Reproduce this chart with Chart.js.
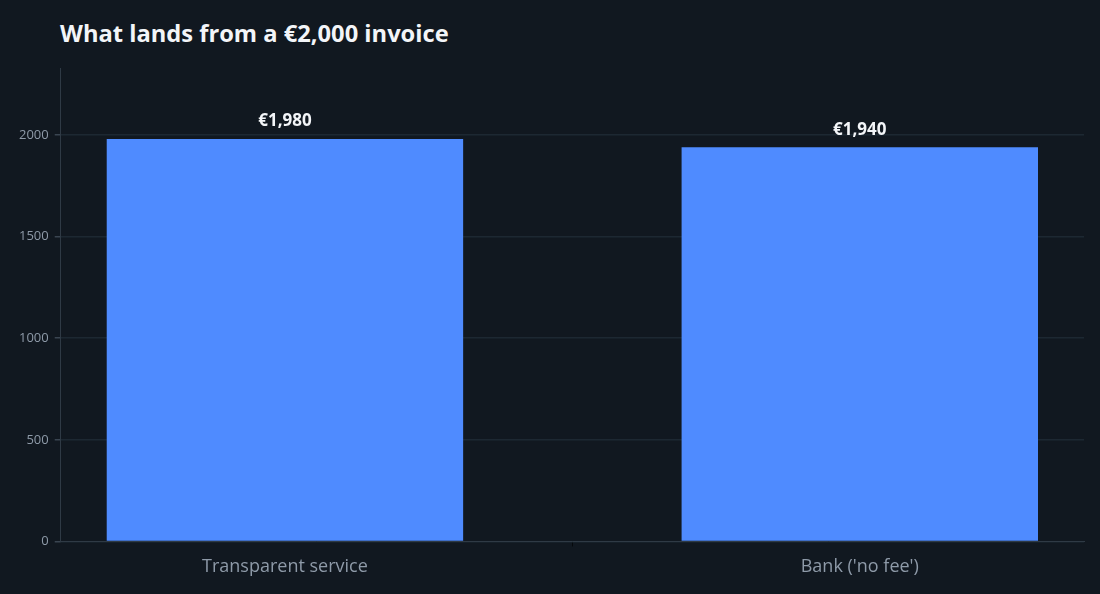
<!DOCTYPE html>
<html>
<head>
<meta charset="utf-8">
<script src="https://cdn.jsdelivr.net/npm/chart.js@4"></script>
<style>
  html, body { margin: 0; padding: 0; background: #111820; }
  #wrap { position: relative; width: 1100px; height: 594px; }
  #title {
    position: absolute; left: 60px; top: 17px; margin: 0;
    font-family: "Open Sans", "Noto Sans", sans-serif; font-weight: 700;
    font-size: 23.7px; color: #f3f5f8;
  }
  canvas { position: absolute; left: 0; top: 0; }
</style>
</head>
<body>
<div id="wrap">
  <h1 id="title">What lands from a €2,000 invoice</h1>
  <canvas id="chart" width="1100" height="594"></canvas>
</div>
<script>
// 数据
const categories = ['Transparent service', "Bank ('no fee')"];
const amounts = [1980, 1940];
const valueLabels = ['€1,980', '€1,940'];
const yTicks = [0, 500, 1000, 1500, 2000];
const yMax = 2330;
const xRange = [-0.39, 1.39];

// 柱顶数值标签
const valueLabelPlugin = {
    id: 'valueLabels',
    afterDatasetsDraw(chart) {
        const ctx = chart.ctx;
        const meta = chart.getDatasetMeta(0);
        ctx.save();
        ctx.font = '700 17px "Open Sans", "Noto Sans", sans-serif';
        ctx.fillStyle = '#f3f5f8';
        ctx.textAlign = 'center';
        ctx.textBaseline = 'bottom';
        meta.data.forEach((bar, i) => {
            ctx.fillText(valueLabels[i], bar.x, bar.y - 9);
        });
        ctx.restore();
    }
};

new Chart(document.getElementById('chart'), {
    type: 'bar',
    data: {
        datasets: [{
            data: amounts.map((v, i) => ({ x: i, y: v })),
            backgroundColor: '#4f8bff',
            borderWidth: 0,
            barPercentage: 0.62,
            categoryPercentage: 1
        }]
    },
    options: {
        responsive: false,
        animation: false,
        devicePixelRatio: 1,
        layout: { padding: { top: 68, right: 16, left: 13, bottom: 6 } },
        plugins: {
            legend: { display: false },
            tooltip: { enabled: false },
            title: { display: false }
        },
        scales: {
            x: {
                type: 'linear',
                min: xRange[0],
                max: xRange[1],
                offset: false,
                border: { color: '#2f3a45', width: 1 },
                afterBuildTicks(scale) {
                    scale.ticks = categories.map((c, i) => ({ value: i }));
                },
                grid: {
                    drawOnChartArea: false,
                    drawTicks: true,
                    tickLength: 5,
                    tickColor: (c) => Number.isInteger(c.tick && c.tick.value) ? '#05080b' : 'rgba(0,0,0,0)'
                },
                ticks: {
                    color: '#8e9aa8',
                    padding: 10,
                    autoSkip: false,
                    font: { family: '"Open Sans", "Noto Sans", sans-serif', size: 18 },
                    callback: (v) => categories[v]
                }
            },
            y: {
                min: 0,
                max: yMax,
                border: { color: '#2f3a45', width: 1 },
                afterBuildTicks(scale) {
                    scale.ticks = yTicks.map(v => ({ value: v }));
                },
                grid: {
                    color: '#1d2832',
                    lineWidth: 1.5,
                    drawTicks: true,
                    tickLength: 6,
                    tickColor: '#3a4551'
                },
                ticks: {
                    color: '#8e9aa8',
                    padding: 6,
                    font: { family: '"Open Sans", "Noto Sans", sans-serif', size: 13 },
                    callback: (v) => String(v)
                }
            }
        }
    },
    plugins: [valueLabelPlugin]
});
</script>
</body>
</html>
